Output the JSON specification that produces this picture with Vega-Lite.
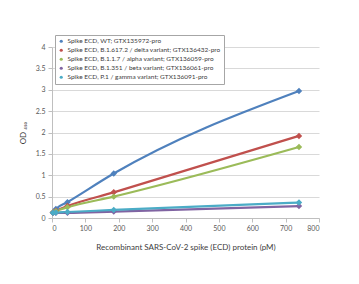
{
  "$schema": "https://vega.github.io/schema/vega-lite/v6.json",
  "width": 267,
  "height": 171,
  "autosize": {"type": "none"},
  "padding": {"left": 52, "top": 47, "right": 40, "bottom": 66},
  "background": "white",
  "config": {
    "font": "Lato",
    "view": {"stroke": null},
    "axis": {
      "labelFont": "Lato",
      "labelFontSize": 7,
      "labelColor": "#595959",
      "titleFont": "Lato",
      "titleFontWeight": "normal",
      "titleColor": "#404040",
      "titleFontSize": 8,
      "domainColor": "#bfbfbf",
      "tickColor": "#bfbfbf",
      "tickSize": 4,
      "gridColor": "#d9d9d9",
      "gridWidth": 1
    }
  },
  "data": {
    "values": [
      {"series": "Spike ECD, WT; GTX135972-pro", "order": 1, "conc": 2.89, "od": 0.13},
      {"series": "Spike ECD, WT; GTX135972-pro", "order": 1, "conc": 11.56, "od": 0.21},
      {"series": "Spike ECD, WT; GTX135972-pro", "order": 1, "conc": 46.25, "od": 0.37},
      {"series": "Spike ECD, WT; GTX135972-pro", "order": 1, "conc": 185, "od": 1.04},
      {"series": "Spike ECD, WT; GTX135972-pro", "order": 1, "conc": 740, "od": 2.97},
      {"series": "Spike ECD, B.1.617.2 / delta variant; GTX136432-pro", "order": 2, "conc": 2.89, "od": 0.13},
      {"series": "Spike ECD, B.1.617.2 / delta variant; GTX136432-pro", "order": 2, "conc": 11.56, "od": 0.17},
      {"series": "Spike ECD, B.1.617.2 / delta variant; GTX136432-pro", "order": 2, "conc": 46.25, "od": 0.28},
      {"series": "Spike ECD, B.1.617.2 / delta variant; GTX136432-pro", "order": 2, "conc": 185, "od": 0.6},
      {"series": "Spike ECD, B.1.617.2 / delta variant; GTX136432-pro", "order": 2, "conc": 740, "od": 1.92},
      {"series": "Spike ECD, B.1.1.7 / alpha variant; GTX136059-pro", "order": 3, "conc": 2.89, "od": 0.13},
      {"series": "Spike ECD, B.1.1.7 / alpha variant; GTX136059-pro", "order": 3, "conc": 11.56, "od": 0.16},
      {"series": "Spike ECD, B.1.1.7 / alpha variant; GTX136059-pro", "order": 3, "conc": 46.25, "od": 0.25},
      {"series": "Spike ECD, B.1.1.7 / alpha variant; GTX136059-pro", "order": 3, "conc": 185, "od": 0.5},
      {"series": "Spike ECD, B.1.1.7 / alpha variant; GTX136059-pro", "order": 3, "conc": 740, "od": 1.66},
      {"series": "Spike ECD, B.1.351 / beta variant; GTX136061-pro", "order": 4, "conc": 2.89, "od": 0.12},
      {"series": "Spike ECD, B.1.351 / beta variant; GTX136061-pro", "order": 4, "conc": 11.56, "od": 0.12},
      {"series": "Spike ECD, B.1.351 / beta variant; GTX136061-pro", "order": 4, "conc": 46.25, "od": 0.12},
      {"series": "Spike ECD, B.1.351 / beta variant; GTX136061-pro", "order": 4, "conc": 185, "od": 0.15},
      {"series": "Spike ECD, B.1.351 / beta variant; GTX136061-pro", "order": 4, "conc": 740, "od": 0.28},
      {"series": "Spike ECD, P.1 / gamma variant; GTX136091-pro", "order": 5, "conc": 2.89, "od": 0.12},
      {"series": "Spike ECD, P.1 / gamma variant; GTX136091-pro", "order": 5, "conc": 11.56, "od": 0.13},
      {"series": "Spike ECD, P.1 / gamma variant; GTX136091-pro", "order": 5, "conc": 46.25, "od": 0.14},
      {"series": "Spike ECD, P.1 / gamma variant; GTX136091-pro", "order": 5, "conc": 185, "od": 0.19},
      {"series": "Spike ECD, P.1 / gamma variant; GTX136091-pro", "order": 5, "conc": 740, "od": 0.36}
    ]
  },
  "encoding": {
    "x": {
      "field": "conc", "type": "quantitative",
      "scale": {"domain": [0, 800], "nice": false},
      "axis": {"values": [0, 100, 200, 300, 400, 500, 600, 700, 800], "grid": false, "labelPadding": 2, "titlePadding": 12,
               "title": "Recombinant SARS-CoV-2 spike (ECD) protein (pM)"}
    },
    "y": {
      "field": "od", "type": "quantitative",
      "scale": {"domain": [0, 4], "nice": false},
      "axis": {"values": [0, 0.5, 1, 1.5, 2, 2.5, 3, 3.5, 4], "format": "~g", "grid": true, "labelPadding": 3, "titlePadding": 8,
               "title": "OD ₄₅₀"}
    },
    "color": {
      "field": "series", "type": "nominal",
      "sort": ["Spike ECD, WT; GTX135972-pro", "Spike ECD, B.1.617.2 / delta variant; GTX136432-pro", "Spike ECD, B.1.1.7 / alpha variant; GTX136059-pro", "Spike ECD, B.1.351 / beta variant; GTX136061-pro", "Spike ECD, P.1 / gamma variant; GTX136091-pro"],
      "scale": {"range": ["#4F81BD", "#C0504D", "#9BBB59", "#8064A2", "#4BACC6"]},
      "legend": {
        "title": null,
        "orient": "none",
        "legendX": 3,
        "legendY": -12,
        "padding": 3,
        "strokeColor": "#a6a6a6",
        "fillColor": "white",
        "symbolType": "circle",
        "symbolSize": 10,
        "symbolStrokeWidth": 0,
        "labelFont": "Lato",
        "labelFontSize": 6.5,
        "labelColor": "#404040",
        "rowPadding": 2,
        "labelOffset": 3,
        "labelLimit": 300
      }
    }
  },
  "layer": [
    {
      "mark": {"type": "line", "strokeWidth": 2.2, "interpolate": "monotone"},
      "encoding": {"detail": {"field": "order"}, "order": {"field": "conc"}}
    },
    {
      "mark": {"type": "point", "shape": "diamond", "filled": true, "size": 42, "opacity": 1}
    }
  ]
}
